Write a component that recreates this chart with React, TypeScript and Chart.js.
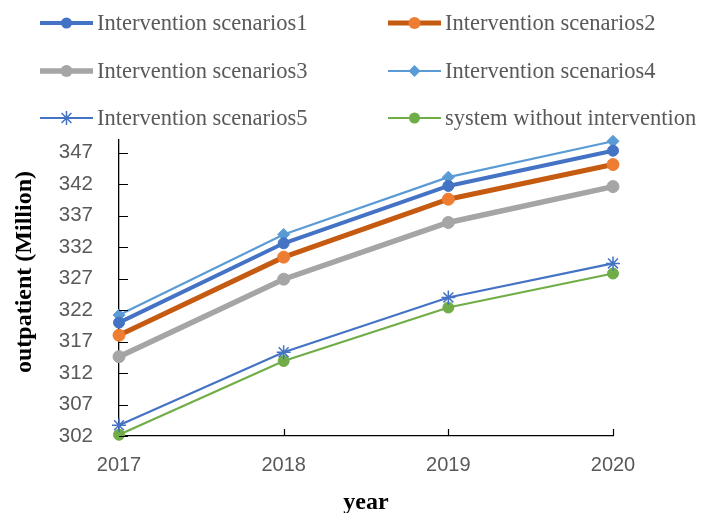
import React, { useEffect, useRef } from "react";
import { Chart, registerables } from "chart.js";

Chart.register(...registerables);

const years = ["2017", "2018", "2019", "2020"];
const yTicks = [302, 307, 312, 317, 322, 327, 332, 337, 342, 347];

const scenario1 = [320.0, 332.6, 341.7, 347.3];
const scenario2 = [318.0, 330.4, 339.6, 345.1];
const scenario3 = [314.6, 326.9, 335.9, 341.6];
const scenario4 = [321.2, 334.0, 343.1, 348.8];
const scenario5 = [303.7, 315.3, 324.0, 329.4];
const noIntervention = [302.2, 313.9, 322.4, 327.8];

const seriesNames = [
  "Intervention scenarios1",
  "Intervention scenarios2",
  "Intervention scenarios3",
  "Intervention scenarios4",
  "Intervention scenarios5",
  "system without intervention",
];

const yTitle = "outpatient (Million)";
const xTitle = "year";

function drawMarker(ctx: any, style: string, r: number, x: number, y: number) {
  ctx.beginPath();
  if (style === "circle") {
    ctx.arc(x, y, r, 0, Math.PI * 2);
    ctx.fill();
  } else if (style === "rectRot") {
    ctx.moveTo(x, y - r);
    ctx.lineTo(x + r, y);
    ctx.lineTo(x, y + r);
    ctx.lineTo(x - r, y);
    ctx.closePath();
    ctx.fill();
  } else if (style === "star") {
    for (let k = 0; k < 4; k++) {
      const a = (k * Math.PI) / 4;
      ctx.moveTo(x + Math.cos(a) * r, y + Math.sin(a) * r);
      ctx.lineTo(x - Math.cos(a) * r, y - Math.sin(a) * r);
    }
    ctx.stroke();
  }
}

const legendPlugin = {
  id: "customLegend",
  afterDraw(chart: any) {
    const ctx = chart.ctx;
    const cols = [40, 388];
    const rows = [23, 71, 118];
    const lineLen = 53;
    ctx.save();
    chart.data.datasets.forEach((ds: any, i: number) => {
      const x = cols[i % 2];
      const y = rows[Math.floor(i / 2)];
      ctx.strokeStyle = ds.borderColor;
      ctx.lineWidth = ds.borderWidth;
      ctx.beginPath();
      ctx.moveTo(x, y);
      ctx.lineTo(x + lineLen, y);
      ctx.stroke();
      ctx.fillStyle = ds.pointBackgroundColor;
      ctx.strokeStyle = ds.pointBorderColor;
      ctx.lineWidth = ds.pointBorderWidth;
      drawMarker(ctx, ds.pointStyle, ds.pointRadius, x + lineLen / 2, y);
      ctx.fillStyle = "#595959";
      ctx.font = "22.5px 'Liberation Serif'";
      ctx.textBaseline = "middle";
      ctx.textAlign = "left";
      ctx.fillText(ds.label, x + lineLen + 4, y + 1);
    });
    // y axis title
    ctx.fillStyle = "#000";
    ctx.font = "bold 24px 'Liberation Serif'";
    ctx.textAlign = "center";
    ctx.textBaseline = "middle";
    ctx.translate(25, 272);
    ctx.rotate(-Math.PI / 2);
    ctx.fillText(yTitle, 0, 0);
    ctx.restore();
  },
};

const innerTicksPlugin = {
  id: "innerTicks",
  afterDraw(chart: any) {
    const ctx = chart.ctx;
    const xs = chart.scales.x;
    const ys = chart.scales.y;
    const area = chart.chartArea;
    ctx.save();
    ctx.strokeStyle = "#000";
    ctx.lineWidth = 1.2;
    ctx.beginPath();
    ys.ticks.forEach((t: any) => {
      const py = Math.round(ys.getPixelForValue(t.value)) + 0.5;
      ctx.moveTo(area.left, py);
      ctx.lineTo(area.left + 9, py);
    });
    for (let i = 1; i < years.length; i++) {
      const px = Math.round(xs.getPixelForValue(i)) + 0.5;
      ctx.moveTo(px, area.bottom);
      ctx.lineTo(px, area.bottom - 7);
    }
    ctx.stroke();
    ctx.restore();
  },
};

export default function App() {
  const ref = useRef<HTMLCanvasElement>(null);
  useEffect(() => {
    document.body.style.margin = "0";
    const mk = (
      label: string,
      data: number[],
      line: string,
      fill: string,
      width: number,
      style: string,
      r: number
    ) => ({
      label,
      data,
      borderColor: line,
      backgroundColor: fill,
      borderWidth: width,
      pointStyle: style,
      pointRadius: r,
      pointHoverRadius: r,
      pointBackgroundColor: fill,
      pointBorderColor: fill,
      pointBorderWidth: style === "star" ? 1.5 : 1,
      tension: 0,
      clip: false,
    });
    const chart = new Chart(ref.current!, {
      type: "line",
      data: {
        labels: years,
        datasets: [
          mk(seriesNames[0], scenario1, "#4472C4", "#4472C4", 4, "circle", 5.5),
          mk(seriesNames[1], scenario2, "#C55A11", "#ED7D31", 5, "circle", 6),
          mk(seriesNames[2], scenario3, "#A5A5A5", "#A5A5A5", 5.5, "circle", 6),
          mk(seriesNames[3], scenario4, "#5B9BD5", "#5B9BD5", 2.2, "rectRot", 6),
          mk(seriesNames[4], scenario5, "#4472C4", "#4472C4", 2.2, "star", 7),
          mk(seriesNames[5], noIntervention, "#70AD47", "#70AD47", 2.2, "circle", 5.5),
        ],
      },
      options: {
        animation: false,
        responsive: false,
        layout: { padding: { top: 140, right: 91, left: 0, bottom: 0 } },
        plugins: {
          legend: { display: false },
          tooltip: { enabled: false },
        },
        scales: {
          x: {
            type: "category",
            offset: false,
            grid: { display: false, drawTicks: false },
            border: { display: true, color: "#000", width: 1.3 },
            ticks: {
              color: "#595959",
              font: { family: "'Liberation Sans'", size: 20 },
              padding: 17,
              maxRotation: 0,
            },
            title: {
              display: true,
              text: xTitle,
              color: "#000",
              font: { family: "'Liberation Serif'", size: 24, weight: "bold" },
              padding: { top: 0, bottom: -4 },
            },
            afterFit(scale: any) {
              scale.height = 77;
            },
          },
          y: {
            type: "linear",
            min: 302,
            max: 349,
            grid: { display: false, drawTicks: false },
            border: { display: true, color: "#000", width: 1.3 },
            afterBuildTicks(scale: any) {
              scale.ticks = yTicks.map((v) => ({ value: v }));
            },
            ticks: {
              color: "#595959",
              font: { family: "'Liberation Sans'", size: 20.5 },
              padding: 26,
            },
            title: { display: false },
            afterFit(scale: any) {
              scale.width = 119;
            },
          },
        },
      } as any,
      plugins: [legendPlugin, innerTicksPlugin],
    });
    return () => chart.destroy();
  }, []);
  return (
    <div style={{ width: 704, height: 513, background: "#fff" }}>
      <canvas ref={ref} width={704} height={513} style={{ display: "block" }} />
    </div>
  );
}
